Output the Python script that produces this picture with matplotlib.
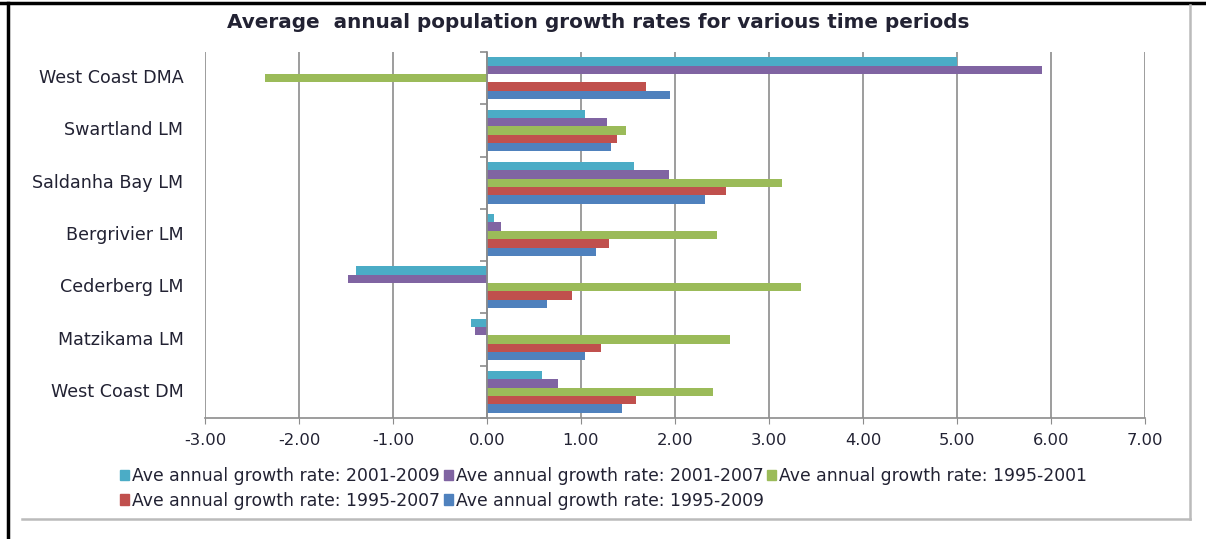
import numpy as np
import matplotlib; matplotlib.use("Agg")
import matplotlib.pyplot as plt
import matplotlib.transforms as mtransforms
from matplotlib.lines import Line2D
from matplotlib.patches import Patch

plt.rcParams["font.family"] = ["DejaVu Sans"]

places = ["West Coast DMA", "Swartland LM", "Saldanha Bay LM", "Bergrivier LM",
          "Cederberg LM", "Matzikama LM", "West Coast DM"]
periods = ["Ave annual growth rate: 2001-2009", "Ave annual growth rate: 2001-2007",
           "Ave annual growth rate: 1995-2001", "Ave annual growth rate: 1995-2007",
           "Ave annual growth rate: 1995-2009"]
rate_2001_2009 = [5.00, 1.04, 1.56, 0.07, -1.39, -0.17, 0.59]
rate_2001_2007 = [5.90, 1.28, 1.94, 0.15, -1.48, -0.13, 0.76]
rate_1995_2001 = [-2.36, 1.48, 3.14, 2.45, 3.34, 2.58, 2.40]
rate_1995_2007 = [1.69, 1.38, 2.54, 1.30, 0.90, 1.21, 1.58]
rate_1995_2009 = [1.95, 1.32, 2.32, 1.16, 0.64, 1.04, 1.44]
series = [rate_2001_2009, rate_2001_2007, rate_1995_2001, rate_1995_2007, rate_1995_2009]
colors = ["#4BACC6", "#8064A2", "#9BBB59", "#C0504D", "#4F81BD"]
xticks = [-3, -2, -1, 0, 1, 2, 3, 4, 5, 6, 7]

txt = "#222233"
grid = "#8c8c8c"

fig = plt.figure(figsize=(12.06, 5.39), dpi=100)
ax = fig.add_axes([205 / 1206, 1 - 418 / 539, 940 / 1206, 366 / 539])

y = np.arange(len(places))
h = 0.16
for k, (vals, col) in enumerate(zip(series, colors)):
    ax.barh(y + (k - 2) * h, vals, height=h, color=col, zorder=3)

ax.set_xlim(-3, 7)
ax.set_ylim(len(places) - 0.5, -0.5)
ax.set_xticks(xticks)
ax.set_xticklabels([f"{v:.2f}" for v in xticks], fontsize=11.8, color=txt)
ax.tick_params(axis="x", length=4, color=grid, pad=7)
ax.grid(axis="x", color=grid, lw=1.2, zorder=0)

# category axis sits on the zero line, ticks between groups
for s in ["top", "right"]:
    ax.spines[s].set_visible(False)
ax.spines["bottom"].set_color(grid)
ax.spines["bottom"].set_linewidth(1.2)
ax.spines["left"].set_position(("data", 0))
ax.spines["left"].set_color(grid)
ax.spines["left"].set_linewidth(1.2)
ax.spines["left"].set_zorder(4)
ax.set_yticks(np.arange(len(places) + 1) - 0.5)
ax.set_yticklabels([])
ax.tick_params(axis="y", length=5, color=grid, width=1.2)

lab_tr = mtransforms.blended_transform_factory(ax.transAxes, ax.transData)
for i, name in enumerate(places):
    ax.text(-0.023, i, name, transform=lab_tr, ha="right", va="center", fontsize=12.6, color=txt)

fig.text(598 / 1206, 1 - 22 / 539, "Average  annual population growth rates for various time periods",
         ha="center", va="center", fontsize=14.4, fontweight="bold", color=txt)

# legend filled row by row: reorder handles for column-major layout
order = [0, 3, 1, 4, 2]
handles = [Patch(color=colors[i]) for i in order]
fig.legend(handles, [periods[i] for i in order], ncol=3, loc="upper left",
           bbox_to_anchor=(120 / 1206, 1 - 467 / 539), frameon=False, fontsize=12.4,
           handlelength=0.55, handleheight=0.55, handletextpad=0.15, columnspacing=0.2,
           labelspacing=0.38, borderaxespad=0, borderpad=0, labelcolor=txt)

# page frame
W, H = 1206, 539
fig.add_artist(Line2D([0, 1], [1 - 3 / H, 1 - 3 / H], color="black", lw=2.5))
fig.add_artist(Line2D([8 / W, 8 / W], [0, 1 - 3 / H], color="black", lw=2.5))
fig.add_artist(Line2D([1190 / W, 1190 / W], [1 - 519 / H, 1 - 5 / H], color="#bbbbbb", lw=1.8))
fig.add_artist(Line2D([22 / W, 1190 / W], [1 - 519 / H, 1 - 519 / H], color="#bbbbbb", lw=1.8))

fig.savefig("out.png", dpi=100)
